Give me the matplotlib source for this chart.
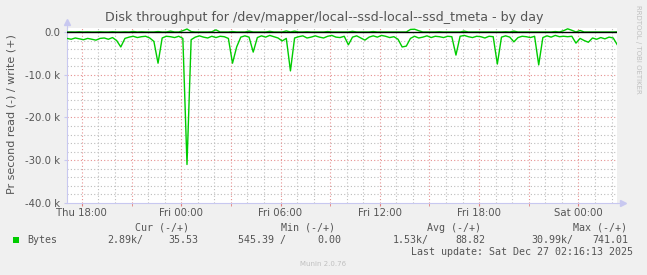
import matplotlib
matplotlib.use("Agg")
import matplotlib.pyplot as plt
import numpy as np

# ---- data (hours relative to Thu 18:00, 15-minute samples) ----
t_start = -0.9
t_step = 0.25
read_bytes = [
    1500, 1700, 1400, 1600, 1800, 1500, 1700, 1900, 1500, 1400,
    1700, 1300, 2000, 3500, 1500, 1200, 1000, 1300, 1100, 1000,
    1400, 2200, 7300, 1400, 1000, 1100, 1300, 1000, 1500, 30990,
    1800, 1200, 900, 1200, 1400, 1000, 1300, 1000, 1100, 1500,
    7300, 3500, 1200, 900, 1200, 4700, 1300, 900, 1200, 800,
    1100, 1400, 2100, 1500, 9100, 1400, 1100, 900, 1400, 1200,
    900, 1200, 1400, 1000, 800, 1200, 1300, 1000, 3000, 1200,
    900, 1400, 1900, 1200, 900, 1200, 800, 1000, 1300, 1100,
    1700, 3500, 3300, 1500, 1000, 1400, 1200, 900, 1300, 1000,
    1100, 1300, 1000, 1100, 5400, 1000, 800, 1100, 1300, 1000,
    1100, 1400, 1000, 1100, 7500, 1200, 900, 1200, 2300, 1300,
    1000, 1100, 1300, 1000, 7700, 1300, 900, 1200, 800, 1100,
    1000, 1100, 1000, 2600, 1500, 2000, 2400, 1400, 1700, 1300,
    1600, 1200, 1400, 3000,
]
write_bytes = [
    0, 20, 0, 50, 0, 30, 0, 0, 40, 0,
    0, 60, 0, 0, 30, 0, 120, 0, 50, 0,
    0, 0, 100, 0, 0, 200, 0, 0, 300, 700,
    100, 0, 0, 0, 0, 50, 500, 0, 0, 0,
    100, 0, 0, 0, 200, 0, 0, 0, 0, 150,
    0, 0, 0, 250, 0, 200, 0, 0, 50, 0,
    0, 0, 0, 100, 0, 0, 0, 0, 0, 150,
    0, 0, 0, 0, 100, 0, 0, 0, 0, 0,
    0, 0, 0, 600, 650, 300, 0, 0, 0, 0,
    50, 0, 0, 0, 0, 0, 200, 0, 0, 0,
    0, 0, 0, 0, 0, 0, 50, 0, 200, 0,
    0, 0, 0, 0, 0, 0, 0, 0, 100, 0,
    300, 741, 400, 0, 350, 0, 0, 0, 0, 0,
    0, 0, 0, 35,
]
t = t_start + t_step * np.arange(len(read_bytes))

xtick_pos = [0, 6, 12, 18, 24, 30]
xtick_labels = ["Thu 18:00", "Fri 00:00", "Fri 06:00", "Fri 12:00", "Fri 18:00", "Sat 00:00"]
ytick_pos = [0, -10000, -20000, -30000, -40000]
ytick_labels = ["0.0", "-10.0 k", "-20.0 k", "-30.0 k", "-40.0 k"]

legend_cols = ["Cur (-/+)", "Min (-/+)", "Avg (-/+)", "Max (-/+)"]
legend_vals = ["2.89k/", "35.53", "545.39 /", "0.00", "1.53k/", "88.82", "30.99k/", "741.01"]

W, H = 647, 275
fig = plt.figure(figsize=(W / 100, H / 100), dpi=100)
fig.patch.set_facecolor("#F0F0F0")

L, R, T, B = 67, 617, 28, 203
ax = fig.add_axes([L / W, 1 - B / H, (R - L) / W, (B - T) / H])
ax.set_facecolor("white")
x0, x1 = -0.9, 32.33
ax.set_xlim(x0, x1)
ax.set_ylim(-40000, 935)

# grids
for h in np.arange(0, 33, 1):
    if h % 3 == 0:
        continue
    ax.axvline(h, color="#bdbdbd", lw=0.8, ls=(0, (1, 2)), zorder=1)
for v in np.arange(-40000, 1, 2000):
    if v % 10000 == 0:
        continue
    ax.axhline(v, color="#bdbdbd", lw=0.8, ls=(0, (1, 2)), zorder=1)
for h in np.arange(0, 33, 3):
    ax.axvline(h, color="#e69090", lw=0.8, ls=(0, (1, 2)), zorder=1.5)
for v in [-10000, -20000, -30000]:
    ax.axhline(v, color="#e69090", lw=0.8, ls=(0, (1, 2)), zorder=1.5)

ax.plot(t, -np.array(read_bytes), color="#00CC00", lw=1.0, zorder=3)
ax.plot(t, np.array(write_bytes), color="#00CC00", lw=1.0, zorder=3)
ax.axhline(0, color="black", lw=1.0, zorder=4)

for s in ["top", "right"]:
    ax.spines[s].set_visible(False)
for s in ["left", "bottom"]:
    ax.spines[s].set_color("#C8C8F0")
    ax.spines[s].set_linewidth(0.8)

ax.set_xticks(xtick_pos)
ax.set_xticklabels(xtick_labels)
ax.set_xticks(np.arange(0, 33, 3), minor=True)
ax.set_yticks(ytick_pos)
ax.set_yticklabels(ytick_labels)
ax.tick_params(axis="x", which="both", length=2, color="#e08080", labelsize=7.3, labelcolor="#555555", pad=1.5)
ax.tick_params(axis="y", length=2, color="#C8C8F0", labelsize=7.3, labelcolor="#555555", pad=3)

# axis arrows
ax.plot([0], [1.035], marker="^", color="#C8C8F0", ms=4, transform=ax.transAxes, clip_on=False)
ax.plot([1.01], [0], marker=">", color="#C8C8F0", ms=4, transform=ax.transAxes, clip_on=False)
ax.plot([0, 0], [1, 1.03], color="#C8C8F0", lw=0.8, transform=ax.transAxes, clip_on=False)
ax.plot([1, 1.01], [0, 0], color="#C8C8F0", lw=0.8, transform=ax.transAxes, clip_on=False)

def px(x, y):
    return x / W, 1 - y / H

fig.text(*px(324, 18), "Disk throughput for /dev/mapper/local--ssd-local--ssd_tmeta - by day",
         ha="center", va="center", fontsize=9.1, color="#555555")
fig.text(*px(12, 114), "Pr second read (-) / write (+)", rotation=90, ha="center", va="center",
         fontsize=8, color="#555555")
fig.text(*px(638, 5), "RRDTOOL / TOBI OETIKER", rotation=270, ha="center", va="top",
         fontsize=5, color="#c0c0c0")

mono = "DejaVu Sans Mono"
fs = 7.2
col_right = [189, 335, 481, 627]
for c, xr in zip(legend_cols, col_right):
    fig.text(*px(xr, 228), c, ha="right", va="center", family=mono, fontsize=fs, color="#555555")
val_right = [143, 198, 286, 341, 429, 485, 573, 628]
for v, xr in zip(legend_vals, val_right):
    fig.text(*px(xr, 240), v, ha="right", va="center", family=mono, fontsize=fs, color="#555555")
fig.patches.append(plt.Rectangle(px(13, 243), 6 / W, 6 / H, transform=fig.transFigure,
                                 facecolor="#00CC00", edgecolor="none"))
fig.text(*px(27, 240), "Bytes", ha="left", va="center", family=mono, fontsize=fs, color="#555555")
fig.text(*px(633, 252), "Last update: Sat Dec 27 02:16:13 2025", ha="right", va="center",
         family=mono, fontsize=fs, color="#555555")
fig.text(*px(323, 264), "Munin 2.0.76", ha="center", va="center", fontsize=5, color="#c0c0c0")

fig.savefig("out.png", dpi=100, facecolor=fig.get_facecolor())
